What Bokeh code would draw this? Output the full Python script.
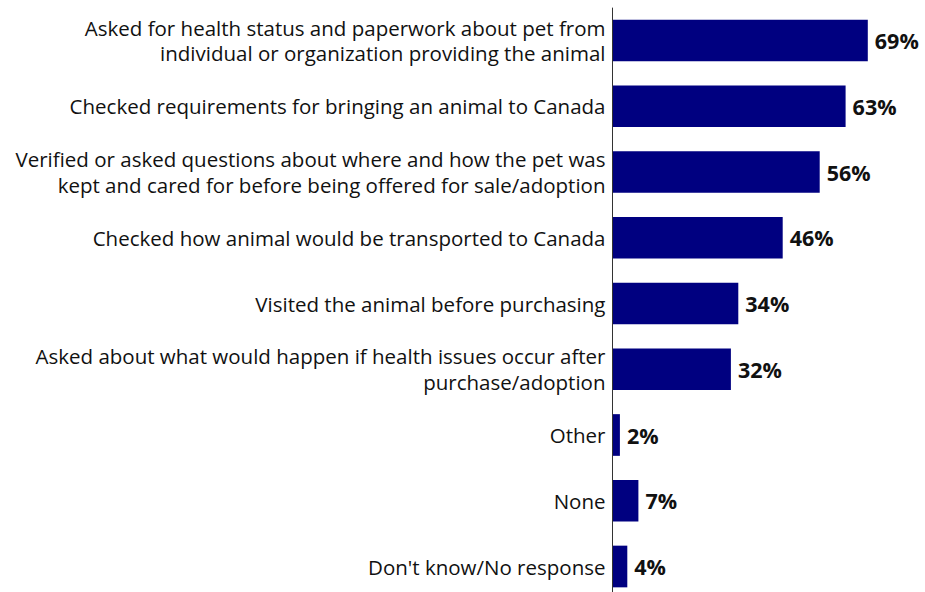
from bokeh.plotting import figure
from bokeh.models import Range1d, ColumnDataSource
from bokeh.core.properties import value
from bokeh.embed import file_html
from bokeh.resources import INLINE

categories = [
    "Asked for health status and paperwork about pet from\nindividual or organization providing the animal",
    "Checked requirements for bringing an animal to Canada",
    "Verified or asked questions about where and how the pet was\nkept and cared for before being offered for sale/adoption",
    "Checked how animal would be transported to Canada",
    "Visited the animal before purchasing",
    "Asked about what would happen if health issues occur after\npurchase/adoption",
    "Other",
    "None",
    "Don't know/No response",
]
values = [69, 63, 56, 46, 34, 32, 2, 7, 4]
value_labels = [f"{v}%" for v in values]

W, H = 925, 592
px_per_unit = 3.7
zero_px = 612
x_start = -zero_px / px_per_unit
x_end = x_start + W / px_per_unit

step = 65.75
first_center = 40
y_top = -first_center / step
y_bottom = (H - first_center) / step

p = figure(width=W, height=H, output_backend="svg", toolbar_location=None,
           x_range=Range1d(x_start, x_end), y_range=Range1d(y_bottom, y_top),
           min_border=0, min_border_left=0, min_border_right=0,
           min_border_top=0, min_border_bottom=0)
p.xaxis.visible = False
p.yaxis.visible = False
p.xgrid.visible = False
p.ygrid.visible = False
p.outline_line_color = None
p.background_fill_color = "white"
p.border_fill_color = "white"

ys = list(range(len(categories)))
src = ColumnDataSource(dict(y=ys, v=values, cat=categories, lab=value_labels,
                            zero=[0] * len(values)))

p.hbar(y="y", left="zero", right="v", height=0.634, source=src,
       fill_color="#000080", line_color=None)

# category axis line spanning all category bands
p.segment(x0=[0], y0=[-0.5], x1=[0], y1=[len(categories) - 0.5],
          line_color="#333333", line_width=1)

p.text(x="zero", y="y", text="cat", source=src, x_offset=-7,
       text_align="right", text_baseline="middle",
       text_font=value("Open Sans"), text_font_size="20.5px",
       text_color="#111111", text_line_height=0.92)

p.text(x="v", y="y", text="lab", source=src, x_offset=7,
       text_align="left", text_baseline="middle",
       text_font=value("Open Sans"), text_font_style="bold", text_font_size="21.5px",
       text_color="#111111")

open("out.html", "w").write(file_html(p, INLINE))
